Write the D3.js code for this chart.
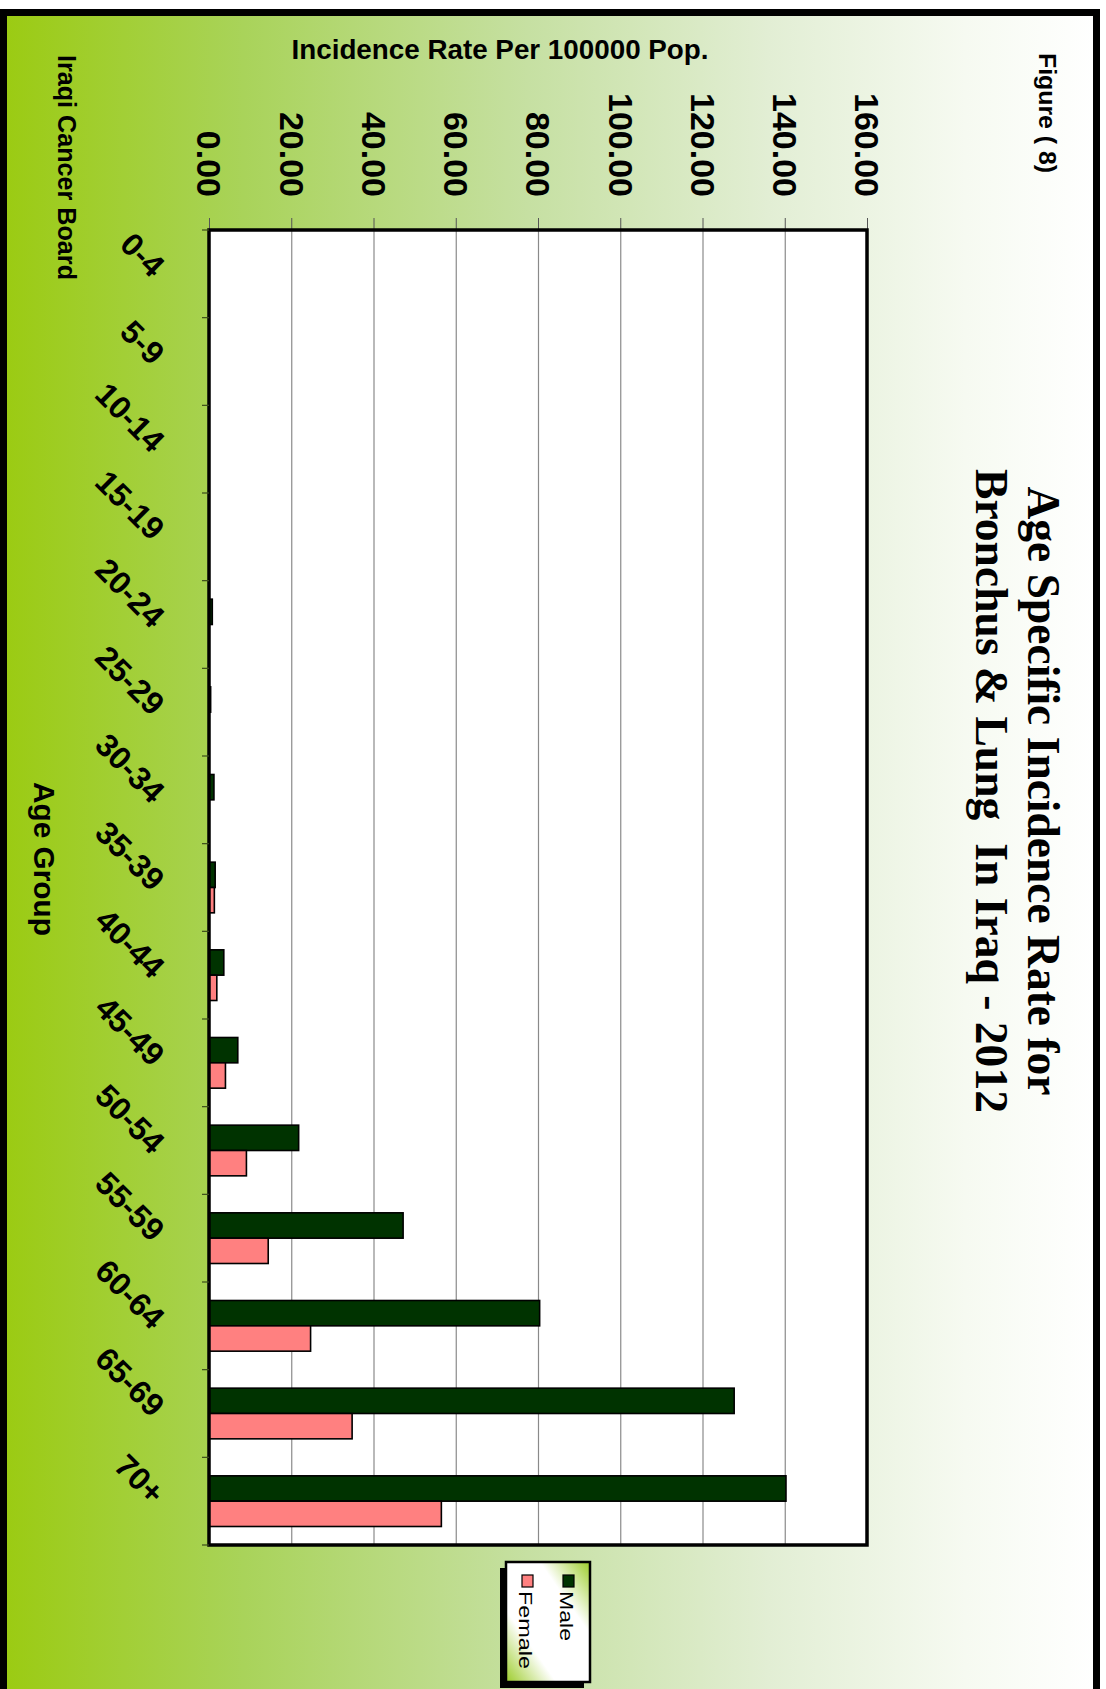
<!DOCTYPE html>
<html><head><meta charset="utf-8">
<script src="https://cdn.jsdelivr.net/npm/d3@7"></script>
<style>
body{margin:0;background:#fff}
svg{display:block}
text{font-family:"Liberation Sans",Arial,sans-serif;white-space:pre}
</style>
</head><body>
<script>
// ---- data ----
const categories = ["0-4","5-9","10-14","15-19","20-24","25-29","30-34","35-39","40-44","45-49","50-54","55-59","60-64","65-69","70+"];
const maleValues   = [0,0,0,0,0.8,0.4,1.2,1.5,3.6,7.0,21.8,47.2,80.4,127.7,140.3];
const femaleValues = [0,0,0,0,0,0,0,1.3,1.9,4.0,9.1,14.4,24.7,34.8,56.5];
const seriesNames  = ["Male","Female"];
const seriesColors = ["#003300","#FF8080"];
const xTicks = [0,20,40,60,80,100,120,140,160];
const titleLines = ["Age Specific Incidence Rate for","Bronchus & Lung  In Iraq - 2012"];
const valueAxisTitle = "Incidence Rate Per 100000 Pop.";
const categoryAxisTitle = "Age Group";
const figureLabel = "Figure ( 8)";
const sourceLabel = "Iraqi Cancer Board";

// ---- layout ----
const W = 1106, H = 1689;
const plot = {left:209, right:867, top:230, bottom:1545};

const svg = d3.select("body").append("svg").attr("width",W).attr("height",H);
const defs = svg.append("defs");
const bg = defs.append("linearGradient").attr("id","bg").attr("x1",0).attr("x2",1).attr("y1",0).attr("y2",0);
[[0,"#9bcb12"],[0.22,"#a9d35a"],[0.48,"#c6e0a2"],[0.7,"#e2eed4"],[0.88,"#f6faf1"],[1,"#ffffff"]]
  .forEach(([o,c])=>bg.append("stop").attr("offset",o).attr("stop-color",c));
const lg = defs.append("linearGradient").attr("id","lg").attr("x1",1).attr("y1",0).attr("x2",0).attr("y2",1);
[[0,"#9ccc2a"],[0.3,"#ffffff"],[0.7,"#ffffff"],[1,"#9ccc2a"]]
  .forEach(([o,c])=>lg.append("stop").attr("offset",o).attr("stop-color",c));

// outer frame
svg.append("rect").attr("x",3.5).attr("y",12.5).attr("width",1093).attr("height",1720)
  .attr("fill","url(#bg)").attr("stroke","#000").attr("stroke-width",7);

// scales
const x = d3.scaleLinear().domain([0,160]).range([plot.left,plot.right]);
const y = d3.scaleBand().domain(categories).range([plot.top,plot.bottom]).padding(0);
const ys = d3.scaleBand().domain(seriesNames).range([0,y.bandwidth()]).paddingInner(0).paddingOuter(0.73);

// plot background
svg.append("rect").attr("x",plot.left).attr("y",plot.top)
  .attr("width",plot.right-plot.left).attr("height",plot.bottom-plot.top).attr("fill","#fff");

// value axis (top) with ticks + gridlines
const ax = svg.append("g").attr("transform",`translate(0,${plot.top})`)
  .call(d3.axisTop(x).tickValues(xTicks).tickSize(12).tickFormat(d3.format(".2f")));
ax.select(".domain").remove();
ax.selectAll(".tick line").attr("stroke","#555").attr("stroke-width",1);
ax.selectAll(".tick").append("line").attr("y1",0).attr("y2",plot.bottom-plot.top)
  .attr("stroke","#8a8a8a").attr("stroke-width",1.2);
ax.selectAll(".tick text")
  .attr("x",0).attr("y",0).attr("dy","0.36em")
  .attr("transform","translate(0,-33) rotate(90)")
  .attr("text-anchor","end")
  .attr("font-size",34).attr("font-weight","bold").attr("fill","#000")
  .attr("font-family","Liberation Sans, Arial, sans-serif");

// bars
const data = categories.map((c,i)=>({cat:c, vals:[maleValues[i],femaleValues[i]]}));
const grp = svg.append("g").selectAll("g").data(data).join("g")
  .attr("transform",d=>`translate(0,${y(d.cat)})`);
grp.selectAll("rect").data(d=>d.vals.map((v,j)=>({v,s:seriesNames[j],c:seriesColors[j]})))
  .join("rect")
  .filter(d=>d.v>0)
  .attr("x",x(0)).attr("y",d=>ys(d.s))
  .attr("width",d=>x(d.v)-x(0)).attr("height",ys.bandwidth())
  .attr("fill",d=>d.c).attr("stroke","#000").attr("stroke-width",1.6);

// plot border
svg.append("rect").attr("x",plot.left).attr("y",plot.top)
  .attr("width",plot.right-plot.left).attr("height",plot.bottom-plot.top)
  .attr("fill","none").attr("stroke","#000").attr("stroke-width",3.5);

// category ticks at band boundaries
const bounds = categories.map(c=>y(c)).concat([plot.bottom]);
svg.append("g").selectAll("line").data(bounds).join("line")
  .attr("x1",plot.left-7).attr("x2",plot.left).attr("y1",d=>d).attr("y2",d=>d)
  .attr("stroke","#3a4a1a").attr("stroke-width",1.2);

// category labels
svg.append("g").selectAll("text").data(categories).join("text")
  .attr("transform",d=>`translate(151,${y(d)+y.bandwidth()/2+5}) rotate(45)`)
  .attr("text-anchor","end").attr("font-size",32).attr("font-weight","bold").attr("fill","#000")
  .text(d=>d);

// axis titles and labels
function rtext(tx,ty,str,size,opts={}){
  const t = svg.append("text").attr("transform",`translate(${tx},${ty}) rotate(${opts.rot??90})`)
    .attr("font-size",size).attr("font-weight",opts.weight||"bold").attr("fill","#000")
    .attr("text-anchor",opts.anchor||"start").text(str);
  if(opts.family) t.style("font-family",opts.family);
  if(opts.len) t.attr("textLength",opts.len).attr("lengthAdjust","spacingAndGlyphs");
  return t;
}
rtext(500,59,valueAxisTitle,27.5,{rot:0,anchor:"middle",len:417});
rtext(1039,53,figureLabel,24,{len:120});
rtext(58,55,sourceLabel,25,{len:225});
rtext(34,782,categoryAxisTitle,29,{len:154});
rtext(1028,791,titleLines[0],47,{anchor:"middle",family:"'Liberation Serif','Times New Roman',serif",len:609});
rtext(976,791,titleLines[1],47,{anchor:"middle",family:"'Liberation Serif','Times New Roman',serif",len:644});

// legend
const leg = svg.append("g");
leg.append("rect").attr("x",500).attr("y",1568).attr("width",84).attr("height",120).attr("fill","#000");
leg.append("rect").attr("x",506).attr("y",1562).attr("width",84).attr("height",120)
  .attr("fill","url(#lg)").attr("stroke","#000").attr("stroke-width",2.5);
const legX = [568, 527];
const legLen = [50, 78];
seriesNames.forEach((s,i)=>{
  leg.append("rect").attr("x",legX[i]-5).attr("y",1575).attr("width",11).attr("height",12)
    .attr("fill",seriesColors[i]).attr("stroke","#000").attr("stroke-width",1.2);
  leg.append("text").attr("transform",`translate(${legX[i]-8},1591) rotate(90)`)
    .attr("font-size",19).attr("fill","#000")
    .attr("textLength",legLen[i]).attr("lengthAdjust","spacingAndGlyphs").text(s);
});
</script>
</body></html>
